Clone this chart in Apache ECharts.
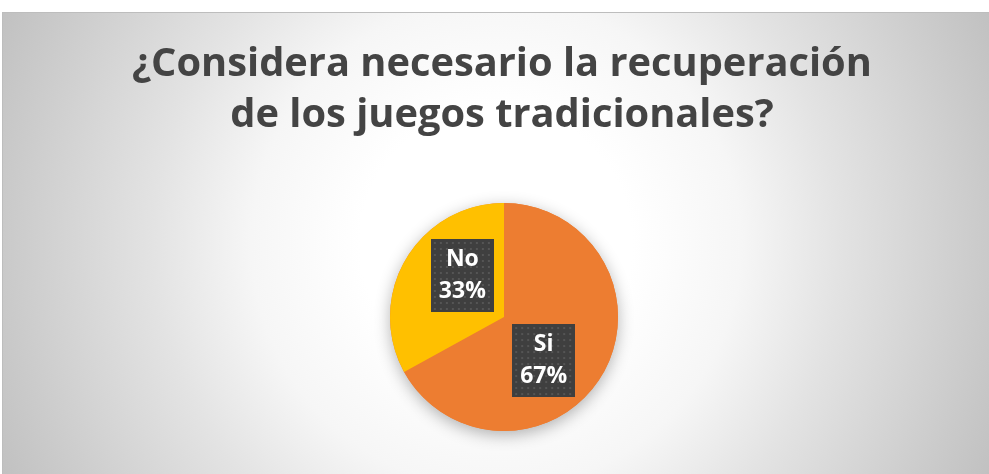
<!DOCTYPE html>
<html>
<head>
<meta charset="utf-8">
<script src="https://cdn.jsdelivr.net/npm/echarts@6/dist/echarts.min.js"></script>
<style>
  html, body { margin: 0; padding: 0; background: #ffffff; width: 989px; height: 474px; overflow: hidden; }
  #wrap { position: absolute; left: 2px; top: 12px; width: 987px; height: 462px; border-top: 1px solid #bdbdbd; border-left: 1px solid #bdbdbd; }
  #chart { width: 986px; height: 461px; }
</style>
</head>
<body>
<div id="wrap"><div id="chart"></div></div>
<script>
// ---- data ----
const titleLines = ['¿Considera necesario la recuperación', 'de los juegos tradicionales?'];
const categories = ['Si', 'No'];
const values = [67, 33];
const sliceColors = ['#ED7D31', '#FFC000'];
// label nudges (pixels) relative to the default inside position
const labelShift = [[-12, 13], [10, -11]];

function makeDots(w, h) {
  const c = document.createElement('canvas');
  c.width = w; c.height = h;
  const g = c.getContext('2d');
  g.fillStyle = '#3f3f3f';
  g.fillRect(0, 0, w, h);
  g.fillStyle = '#555555';
  for (let y = 3; y < h; y += 6) {
    for (let x = 3; x < w; x += 6) {
      g.fillRect(x, y, 2, 2);
    }
  }
  return c;
}
const dots = makeDots(63, 73);

const total = values.reduce((a, b) => a + b, 0);
const chart = echarts.init(document.getElementById('chart'), null, { renderer: 'canvas' });
const center = [501, 304];
const radius = 114;

chart.setOption({
  backgroundColor: {
    type: 'radial', x: 0.5, y: 0.5, r: 1.18,
    colorStops: [
      { offset: 0, color: '#ffffff' },
      { offset: 0.25, color: '#ffffff' },
      { offset: 0.45, color: '#f6f6f6' },
      { offset: 0.63, color: '#e3e3e3' },
      { offset: 0.9, color: '#cacaca' },
      { offset: 1, color: '#c1c1c1' }
    ]
  },
  animation: false,
  title: {
    text: titleLines.join('\n'),
    left: 499,
    textAlign: 'center',
    top: 26,
    padding: 0,
    textStyle: {
      fontFamily: 'Open Sans',
      fontWeight: 'bold',
      fontSize: 39.8,
      lineHeight: 51,
      color: '#444444'
    }
  },
  series: [
    {
      type: 'pie',
      silent: true,
      center: center,
      radius: radius,
      data: [{ value: total, name: 'all' }],
      label: { show: false },
      labelLine: { show: false },
      itemStyle: {
        color: sliceColors[0],
        shadowBlur: 16,
        shadowColor: 'rgba(0,0,0,0.3)',
        shadowOffsetY: 4
      }
    },
    {
      type: 'pie',
      center: center,
      radius: radius,
      startAngle: 90,
      clockwise: true,
      data: categories.map((c, i) => ({ name: c, value: values[i], itemStyle: { color: sliceColors[i] } })),
      itemStyle: { borderWidth: 0 },
      label: {
        show: true,
        position: 'inside',
        formatter: '{b}\n{d}%',
        color: '#ffffff',
        fontFamily: 'Open Sans',
        fontWeight: 'bold',
        fontSize: 23,
        lineHeight: 32,
        width: 63,
        align: 'center',
        padding: [8, 0, 1, 0],
        backgroundColor: { image: dots },
        shadowBlur: 5,
        shadowColor: 'rgba(0,0,0,0.45)',
        shadowOffsetX: 3,
        shadowOffsetY: 3
      },
      labelLine: { show: false },
      labelLayout: function (p) {
        const s = labelShift[p.dataIndex];
        return { dx: s[0], dy: s[1] };
      }
    }
  ]
});
</script>
</body>
</html>
